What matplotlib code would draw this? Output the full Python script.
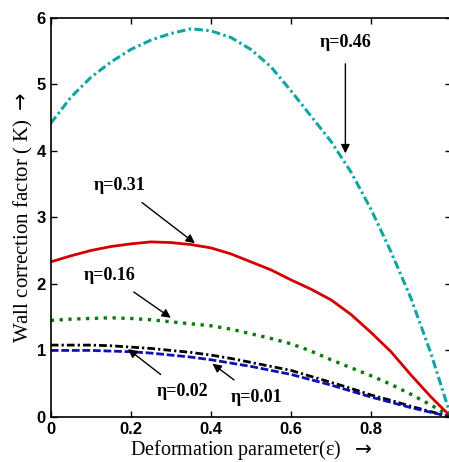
import matplotlib
matplotlib.use("Agg")
from matplotlib import pyplot as plt

# values
eps = [0.0, 0.05, 0.1, 0.15, 0.2, 0.25, 0.3, 0.35, 0.4, 0.45, 0.5, 0.55, 0.6, 0.65,
       0.7, 0.75, 0.8, 0.85, 0.9, 0.95, 1.0]

k_046 = [4.41, 4.80, 5.10, 5.33, 5.52, 5.66, 5.76, 5.83, 5.80, 5.70, 5.52, 5.26, 4.90,
         4.52, 4.14, 3.68, 3.12, 2.48, 1.78, 0.95, 0.0]
k_031 = [2.33, 2.42, 2.50, 2.56, 2.60, 2.63, 2.62, 2.59, 2.54, 2.45, 2.33, 2.21, 2.06,
         1.92, 1.76, 1.54, 1.27, 0.98, 0.63, 0.30, 0.0]
k_016 = [1.45, 1.47, 1.48, 1.49, 1.48, 1.46, 1.43, 1.40, 1.37, 1.32, 1.25, 1.18, 1.10,
         0.99, 0.86, 0.74, 0.62, 0.49, 0.34, 0.18, 0.0]
k_002 = [1.08, 1.08, 1.08, 1.07, 1.05, 1.03, 1.00, 0.97, 0.93, 0.88, 0.82, 0.76, 0.70,
         0.61, 0.52, 0.43, 0.33, 0.25, 0.16, 0.08, 0.0]
k_001 = [1.00, 1.00, 1.00, 0.99, 0.98, 0.96, 0.93, 0.90, 0.86, 0.81, 0.76, 0.70, 0.64,
         0.56, 0.48, 0.39, 0.30, 0.22, 0.14, 0.07, 0.0]

labels = ["\u03b7=0.46", "\u03b7=0.31", "\u03b7=0.16", "\u03b7=0.02", "\u03b7=0.01"]
# arrow tips and label positions (data coords)
tips = [(0.736, 3.96), (0.36, 2.61), (0.30, 1.49), (0.193, 1.02), (0.404, 0.80)]
texts = [(0.736, 5.62), (0.172, 3.48), (0.147, 2.13), (0.33, 0.38), (0.515, 0.30)]

serif = ["Liberation Serif", "DejaVu Serif"]

fig = plt.figure(figsize=(4.49, 4.62), dpi=100)
ax = fig.add_axes([0.113, 0.0974, 0.8916, 0.8647])

ax.plot(eps, k_046, color="#0fa5a5", lw=2.2, dashes=(2.8, 1.1, 0.8, 1.1))
ax.plot(eps, k_031, color="#d40000", ls="-", lw=2.0)
ax.plot(eps, k_016, color="#0a7a0a", ls=":", lw=2.4)
ax.plot(eps, k_002, color="black", lw=2.0, dashes=(2.8, 1.1, 0.8, 1.1))
ax.plot(eps, k_001, color="#1010b0", lw=2.0, dashes=(2.8, 1.0))

for lab, tip, txt in zip(labels, tips, texts):
    ax.annotate(lab, xy=tip, xytext=txt, ha="center", va="center",
                fontsize=13, fontweight="bold", family=serif,
                arrowprops=dict(arrowstyle="-|>", color="black", lw=1.0,
                                mutation_scale=13, shrinkA=7, shrinkB=0))

ax.set_xlim(0, 1)
ax.set_ylim(0, 6)
ax.set_xticks([0, 0.2, 0.4, 0.6, 0.8])
ax.set_xticklabels(["0", "0.2", "0.4", "0.6", "0.8"])
ax.set_yticks([0, 1, 2, 3, 4, 5, 6])
ax.tick_params(direction="in", top=True, right=True, length=4, width=1)
for t in ax.get_xticklabels() + ax.get_yticklabels():
    t.set_family("Liberation Sans")
    t.set_fontweight("bold")
    t.set_fontsize(12)
for s in ax.spines.values():
    s.set_linewidth(1.2)

ax.set_xlabel("Deformation parameter(\u03b5)  $\\rightarrow$", family=serif,
              fontsize=14.5, labelpad=1)
ax.set_ylabel("Wall correction factor ( K) $\\rightarrow$", family=serif,
              fontsize=15, labelpad=1)

fig.savefig("out.png", dpi=100)
